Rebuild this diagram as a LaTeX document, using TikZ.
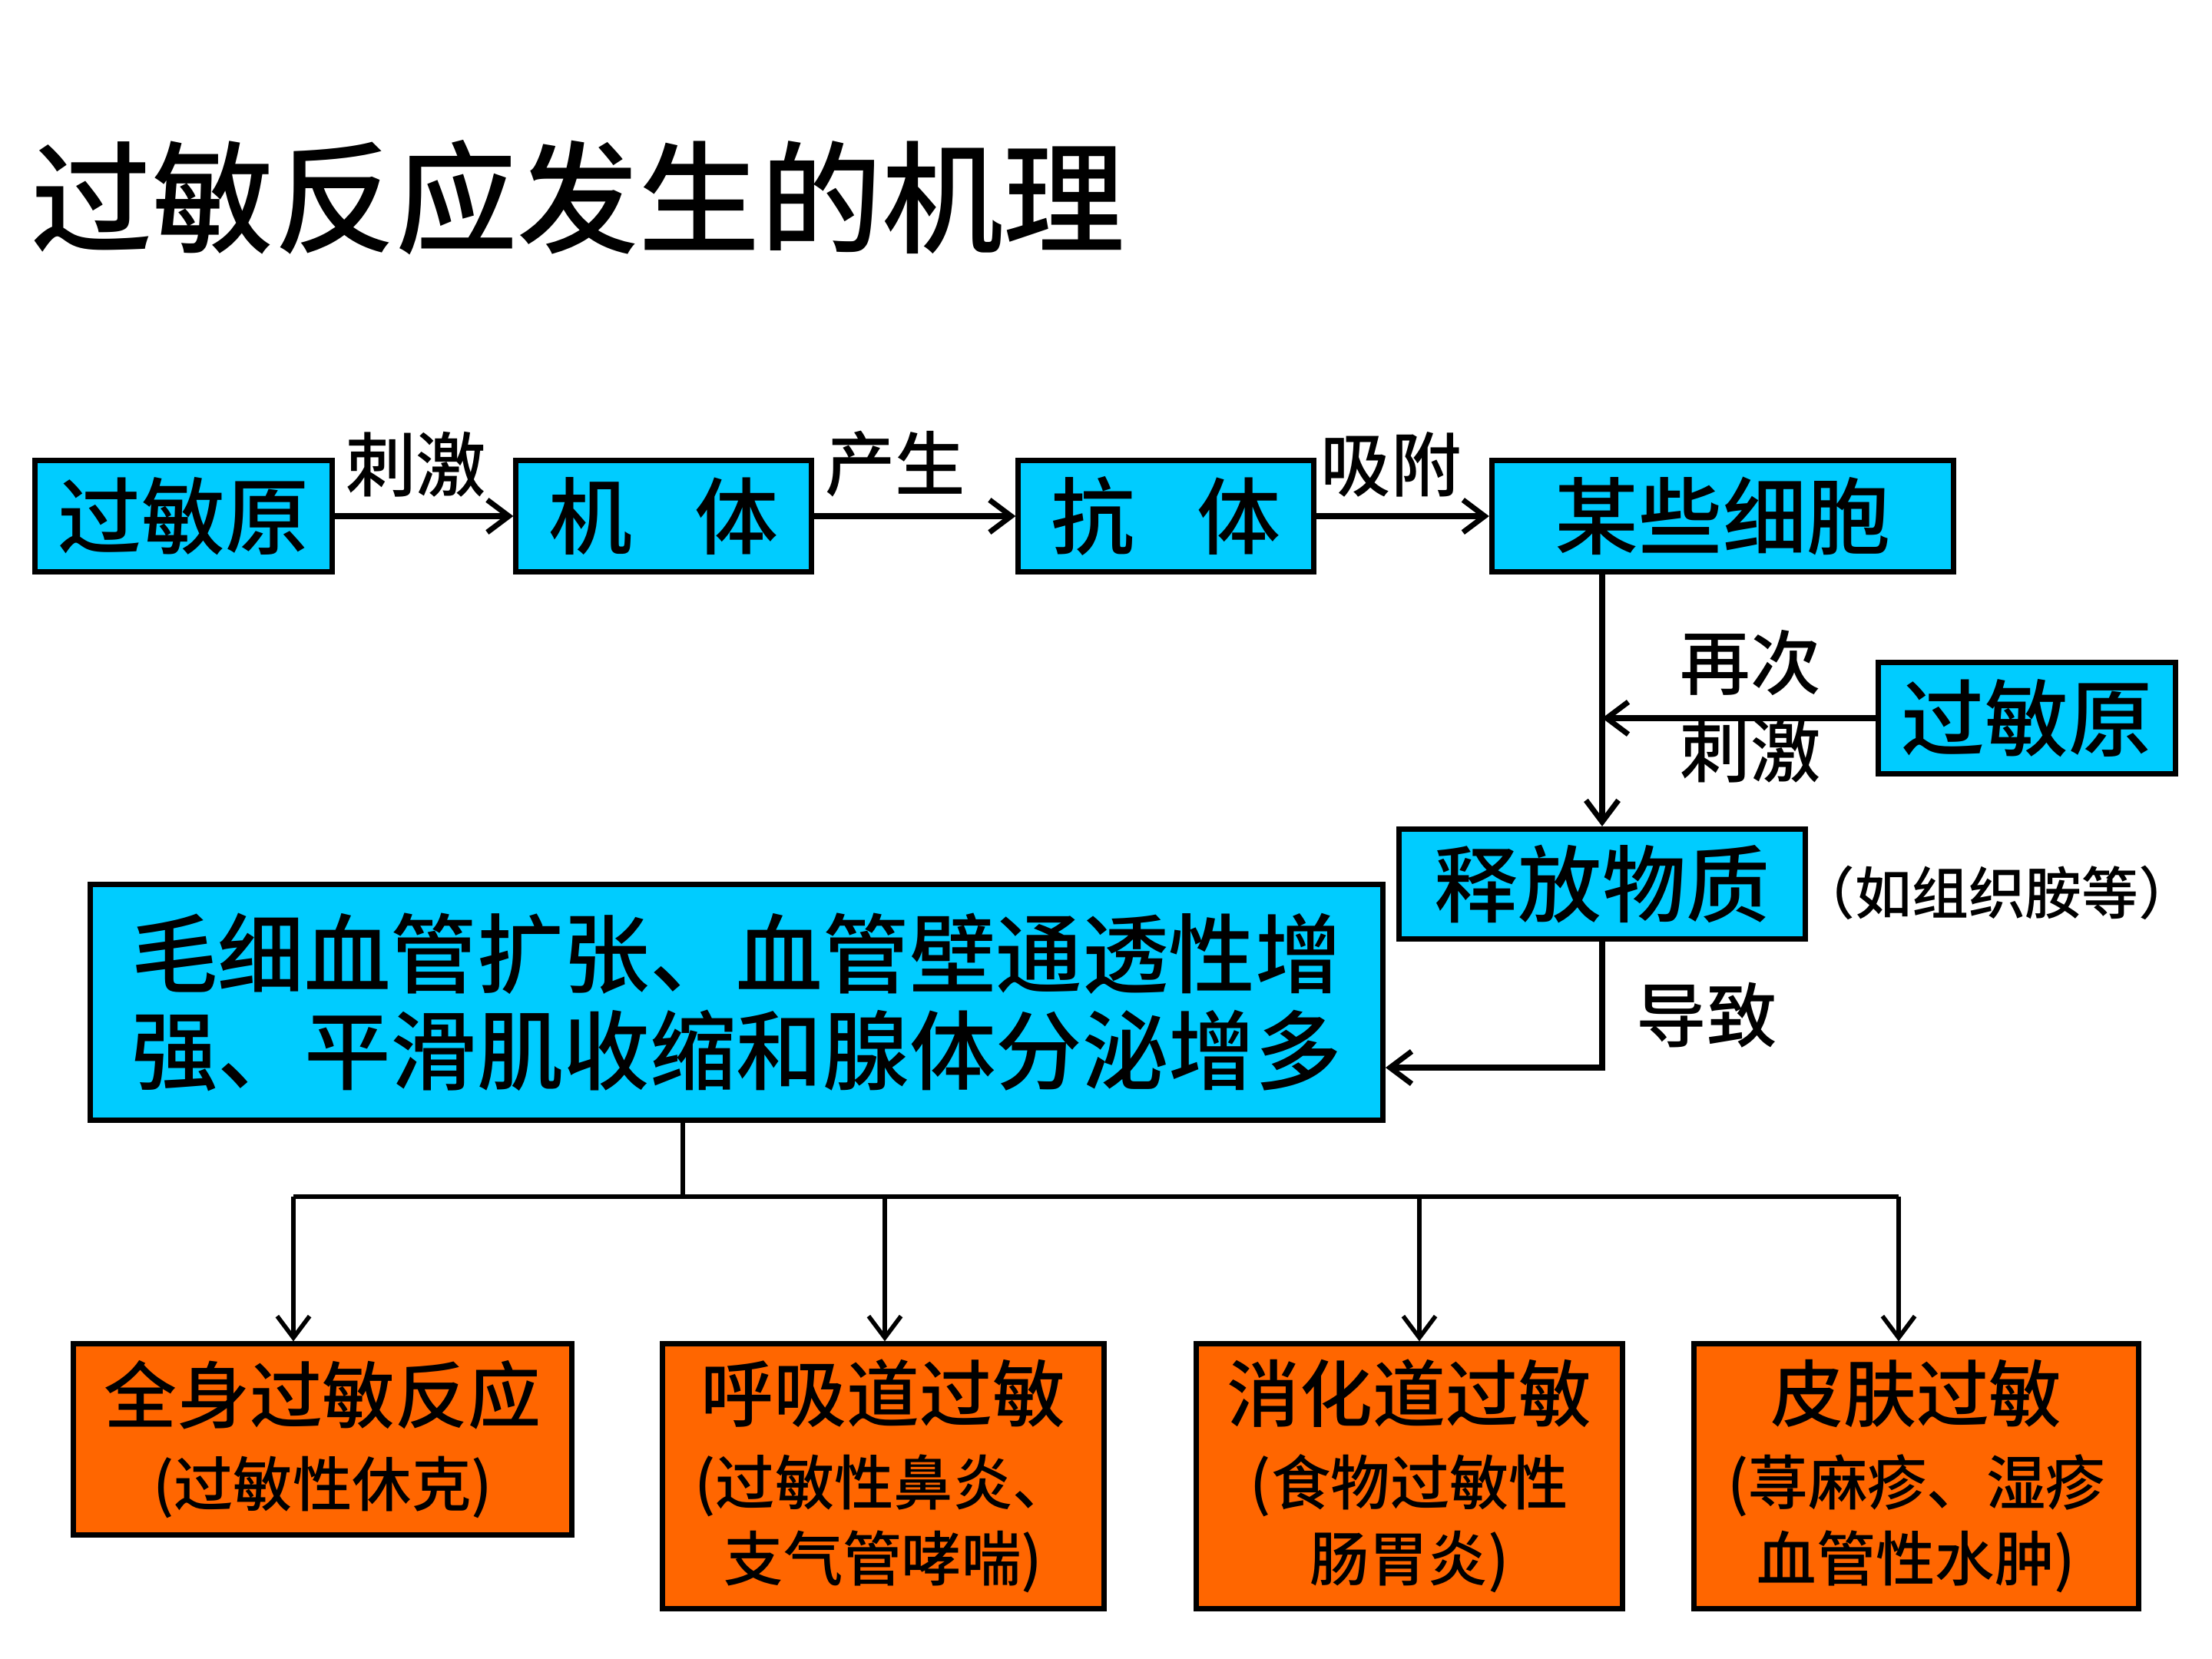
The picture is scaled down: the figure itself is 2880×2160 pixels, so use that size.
\documentclass[tikz,border=0pt]{standalone}
\usepackage{fontspec}
\setmainfont{Noto Sans CJK SC}[BoldFont={Noto Sans CJK SC Medium}]
\usetikzlibrary{arrows.meta}
\definecolor{boxblue}{HTML}{00CCFF}
\definecolor{boxorange}{HTML}{FF6600}
\newcommand\otitle[1]{{\fontsize{27}{30}\selectfont #1}}

\begin{document}
\begin{tikzpicture}[x=0.01cm,y=-0.01cm,
    bluebox/.style={draw,line width=2pt,fill=boxblue,inner sep=0pt,align=center,font=\fontsize{31}{36}\selectfont\bfseries},
    orangebox/.style={draw,line width=2pt,fill=boxorange,inner sep=0pt,align=center,font=\fontsize{22}{28}\selectfont\bfseries},
    lbl/.style={inner sep=0pt,font=\fontsize{26}{30}\selectfont\bfseries},
    line/.style={line width=1.6pt},
    arr/.style={line width=2.2pt,-{Straight Barb[length=8pt,width=12pt,line width=2pt]}},
    thinarr/.style={line width=1.6pt,-{Straight Barb[length=8pt,width=12pt,line width=1.6pt]}}]
  \useasboundingbox (0,0) rectangle (2880,2160);
  \node[anchor=west,inner sep=0pt,font=\fontsize{45}{50}\selectfont\bfseries] (title) at (40,257) {过敏反应发生的机理};

  % top row
  \node[bluebox,minimum width=3.86cm,minimum height=1.45cm] (yuan) at (239,672) {过敏原};
  \node[bluebox,minimum width=3.84cm,minimum height=1.45cm] (jiti) at (864,672) {机\hspace{0.75em}体};
  \node[bluebox,minimum width=3.84cm,minimum height=1.45cm] (kangti) at (1518,672) {抗\hspace{0.75em}体};
  \node[bluebox,minimum width=6.01cm,minimum height=1.45cm] (xibao) at (2243,672) {某些细胞};
  \draw[arr] (yuan) -- node[lbl,above=6pt,xshift=-0.1cm] {刺激} (jiti);
  \draw[arr] (jiti) -- node[lbl,above=6pt,xshift=-0.25cm] {产生} (kangti);
  \draw[arr] (kangti) -- node[lbl,above=6pt,xshift=-0.15cm] {吸附} (xibao);

  % second contact
  \node[bluebox,minimum width=3.86cm,minimum height=1.45cm] (yuan2) at (2639,935) {过敏原};
  \node[bluebox,minimum width=5.29cm,minimum height=1.43cm] (wuzhi) at (2086,1151) {释放物质};
  \node[inner sep=0pt,font=\fontsize{21}{24}\selectfont\bfseries] (anzhi) at (2600,1162) {（如组织胺等）};
  \coordinate (hui) at (wuzhi.north |- yuan2.west);
  \draw[arr] (wuzhi.north |- xibao.south) -- (wuzhi.north);
  \draw[arr] (yuan2.west) -- (hui);
  \node[lbl] (zaici) at (2279,863) {再次};
  \node[lbl] (ciji) at (2279,977) {刺激};

  % effect
  \node[bluebox,minimum width=16.82cm,minimum height=3.06cm,font=\fontsize{32}{36}\selectfont\bfseries] (xiaoying) at (959,1305)
    {毛细血管扩张、血管壁通透性增\\强、平滑肌收缩和腺体分泌增多};
  \coordinate (guai) at (wuzhi.south |- 0,1390);
  \draw[arr] (wuzhi.south) -- (guai) -- (xiaoying.east |- guai);
  \node[lbl] (daozhi) at (2222,1322) {导致};

  % four kinds
  \node[orangebox,minimum width=6.48cm,minimum height=2.48cm] (o1) at (420,1874) {\otitle{全身过敏反应}\\[3pt](过敏性休克)};
  \node[orangebox,minimum width=5.75cm,minimum height=3.44cm] (o2) at (1150,1922) {\otitle{呼吸道过敏}\\[3pt](过敏性鼻炎、\\支气管哮喘)};
  \node[orangebox,minimum width=5.54cm,minimum height=3.44cm] (o3) at (1835,1922) {\otitle{消化道过敏}\\[3pt](食物过敏性\\肠胃炎)};
  \node[orangebox,minimum width=5.78cm,minimum height=3.44cm] (o4) at (2495,1922) {\otitle{皮肤过敏}\\[3pt](荨麻疹、湿疹\\血管性水肿)};
  \coordinate (fen) at (889,1558);
  \draw[line] (fen |- xiaoying.south) -- (fen);
  \draw[line] (382,1558) -- (2472,1558);
  \foreach \x/\o in {382/o1,1152/o2,1848/o3,2472/o4}
    \draw[thinarr] (\x,1558) -- (\x,1558 |- \o.north);
\end{tikzpicture}
\end{document}
